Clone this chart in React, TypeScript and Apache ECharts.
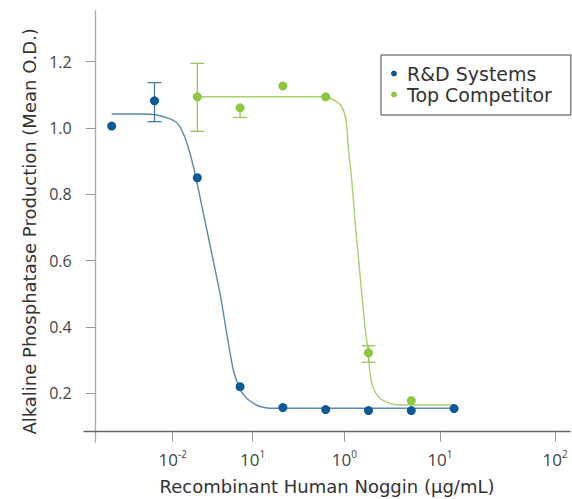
import React, { useEffect, useRef } from "react";
import * as echarts from "echarts";

// log10 concentration of each dilution step (µg/mL)
const logConc = [-2.7, -2.2, -1.7, -1.2, -0.7, -0.2, 0.3, 0.8, 1.3];
const rndValues = [1.006, 1.082, 0.85, 0.22, 0.157, 0.151, 0.148, 0.148, 0.154];
const competitorValues = [null, null, 1.094, 1.061, 1.127, 1.094, 0.322, 0.178, null];

// error bars (null = no visible upper whisker)
const rndErrIndex = [1];
const rndErrLow = [1.019];
const rndErrHigh = [1.137];
const compErrIndex = [2, 3, 6];
const compErrLow = [0.99, 1.032, 0.2935];
const compErrHigh = [1.195, null, 0.3435];

// fitted curves
const rndFitX = [-2.7, -2.369, -2.174, -2.019, -1.937, -1.861, -1.797, -1.75, -1.715, -1.63, -1.532, -1.428, -1.357, -1.279, -1.213, -1.167, -1.12, -1.049, -0.968, -0.852, 1.3];
const rndFitY = [1.0423, 1.0423, 1.0394, 1.0275, 1.0155, 0.982, 0.9337, 0.8885, 0.8493, 0.7437, 0.6231, 0.4913, 0.3818, 0.2703, 0.2199, 0.198, 0.1843, 0.1707, 0.1602, 0.1548, 0.1548];
const compFitX = [-1.707, -0.205, -0.091, -0.013, 0.037, 0.064, 0.104, 0.142, 0.181, 0.221, 0.259, 0.298, 0.318, 0.356, 0.434, 0.551, 0.668, 1.3];
const compFitY = [1.0945, 1.0945, 1.0824, 1.0643, 1.0242, 0.9437, 0.8433, 0.7226, 0.612, 0.5016, 0.4008, 0.3206, 0.2603, 0.2151, 0.1849, 0.1698, 0.1647, 0.1647];

// axis ticks
const xTickPositions = [-1.987, -1.053, 0.017, 1.135, 2.479];
const xTickExponents = ["-2", "1", "0", "1", "2"];
const yTicks = [0.2, 0.4, 0.6, 0.8, 1.0, 1.2];

const BLUE = "#0b5a96";
const BLUE_LINE = "#5a88b0";
const GREEN = "#8dc63f";
const GREEN_LINE = "#a9cf6e";

function errSeries(
  name: string,
  idx: number[],
  lo: (number | null)[],
  hi: (number | null)[],
  centers: (number | null)[],
  color: string
) {
  return {
    type: "custom",
    name,
    z: 3,
    silent: true,
    data: idx.map((k, i) => [logConc[k], lo[i], hi[i] == null ? centers[k] : hi[i], hi[i] == null ? 0 : 1]),
    renderItem: (params: any, api: any) => {
      const x = api.value(0);
      const pLo = api.coord([x, api.value(1)]);
      const pHi = api.coord([x, api.value(2)]);
      const capHigh = api.value(3) === 1;
      const hw = 7;
      const style = { stroke: color, lineWidth: 1.3 };
      const children: any[] = [
        { type: "line", shape: { x1: pLo[0], y1: pLo[1], x2: pHi[0], y2: pHi[1] }, style },
        { type: "line", shape: { x1: pLo[0] - hw, y1: pLo[1], x2: pLo[0] + hw, y2: pLo[1] }, style },
      ];
      if (capHigh) {
        children.push({ type: "line", shape: { x1: pHi[0] - hw, y1: pHi[1], x2: pHi[0] + hw, y2: pHi[1] }, style });
      }
      return { type: "group", children };
    },
  };
}

export default function App() {
  const ref = useRef<HTMLDivElement>(null);
  useEffect(() => {
    if (!ref.current) return;
    const chart = echarts.init(ref.current, null, { renderer: "svg" });
    const titleFont = "DejaVu Sans";
    const numFont = "Open Sans";
    chart.setOption({
      animation: false,
      backgroundColor: "#ffffff",
      grid: { left: 84, right: 2, top: 10.7, bottom: 57, containLabel: false, outerBoundsMode: "none" },
      legend: {
        data: ["R&D Systems", "Top Competitor"],
        orient: "vertical",
        left: 381,
        top: 55,
        icon: "circle",
        itemWidth: 16,
        itemHeight: 6,
        itemGap: 2,
        padding: [9, 19, 11, 10],
        borderColor: "#444",
        borderWidth: 1,
        textStyle: { fontFamily: titleFont, fontSize: 19, color: "#333" },
      },
      xAxis: {
        type: "value",
        min: -3.0236,
        max: 2.654,
        offset: -10.3,
        name: "Recombinant Human Noggin (µg/mL)",
        nameLocation: "middle",
        nameGap: 46,
        nameMoveOverlap: false,
        nameTextStyle: { fontFamily: titleFont, fontSize: 18, color: "#333" },
        axisLine: { onZero: false, lineStyle: { color: "#666", width: 1.3 } },
        axisTick: { customValues: xTickPositions, length: 10, lineStyle: { color: "#999" } },
        axisLabel: {
          customValues: xTickPositions,
          margin: 17,
          formatter: (v: number) => {
            const i = xTickPositions.findIndex((p) => Math.abs(p - v) < 1e-6);
            return i < 0 ? "" : `{b|10}{s|${xTickExponents[i]}}`;
          },
          rich: {
            b: { fontFamily: numFont, fontSize: 17, color: "#444", verticalAlign: "bottom", lineHeight: 19 },
            s: { fontFamily: numFont, fontSize: 10, color: "#444", verticalAlign: "top", lineHeight: 19 },
          },
        },
        splitLine: { show: false },
      },
      yAxis: {
        type: "value",
        min: 0.0531,
        max: 1.3538,
        offset: -11.7,
        name: "Alkaline Phosphatase Production (Mean O.D.)",
        nameLocation: "middle",
        nameGap: 57,
        nameMoveOverlap: false,
        nameTextStyle: { fontFamily: titleFont, fontSize: 18, color: "#333", padding: [0, 10, 0, 0] },
        axisLine: { show: true, onZero: false, lineStyle: { color: "#aaa", width: 1.3 } },
        axisTick: { show: true, customValues: yTicks, length: 10, lineStyle: { color: "#999" } },
        axisLabel: {
          customValues: yTicks,
          margin: 24,
          fontFamily: numFont,
          fontSize: 16,
          color: "#444",
          formatter: (v: number) => v.toFixed(1),
        },
        splitLine: { show: false },
      },
      series: [
        {
          type: "line",
          name: "rndFit",
          data: rndFitX.map((x, i) => [x, rndFitY[i]]),
          showSymbol: false,
          symbol: "none",
          smooth: 0.3,
          lineStyle: { color: BLUE_LINE, width: 1.4 },
          z: 2,
          silent: true,
        },
        {
          type: "line",
          name: "compFit",
          data: compFitX.map((x, i) => [x, compFitY[i]]),
          showSymbol: false,
          symbol: "none",
          smooth: 0.3,
          lineStyle: { color: GREEN_LINE, width: 1.4 },
          z: 2,
          silent: true,
        },
        errSeries("rndErr", rndErrIndex, rndErrLow, rndErrHigh, rndValues, "#4a78a0"),
        errSeries("compErr", compErrIndex, compErrLow, compErrHigh, competitorValues, "#9cc65a"),
        {
          type: "scatter",
          name: "R&D Systems",
          data: logConc.map((x, i) => [x, rndValues[i]]),
          symbolSize: 9,
          itemStyle: { color: BLUE, opacity: 1 },
          z: 5,
        },
        {
          type: "scatter",
          name: "Top Competitor",
          data: logConc
            .map((x, i) => [x, competitorValues[i]])
            .filter((d) => d[1] !== null),
          symbolSize: 9,
          itemStyle: { color: GREEN, opacity: 1 },
          z: 4,
        },
      ],
    });
    return () => chart.dispose();
  }, []);
  return (
    <div
      ref={ref}
      style={{ position: "fixed", left: 0, top: 0, width: 572, height: 499, background: "#fff" }}
    />
  );
}
